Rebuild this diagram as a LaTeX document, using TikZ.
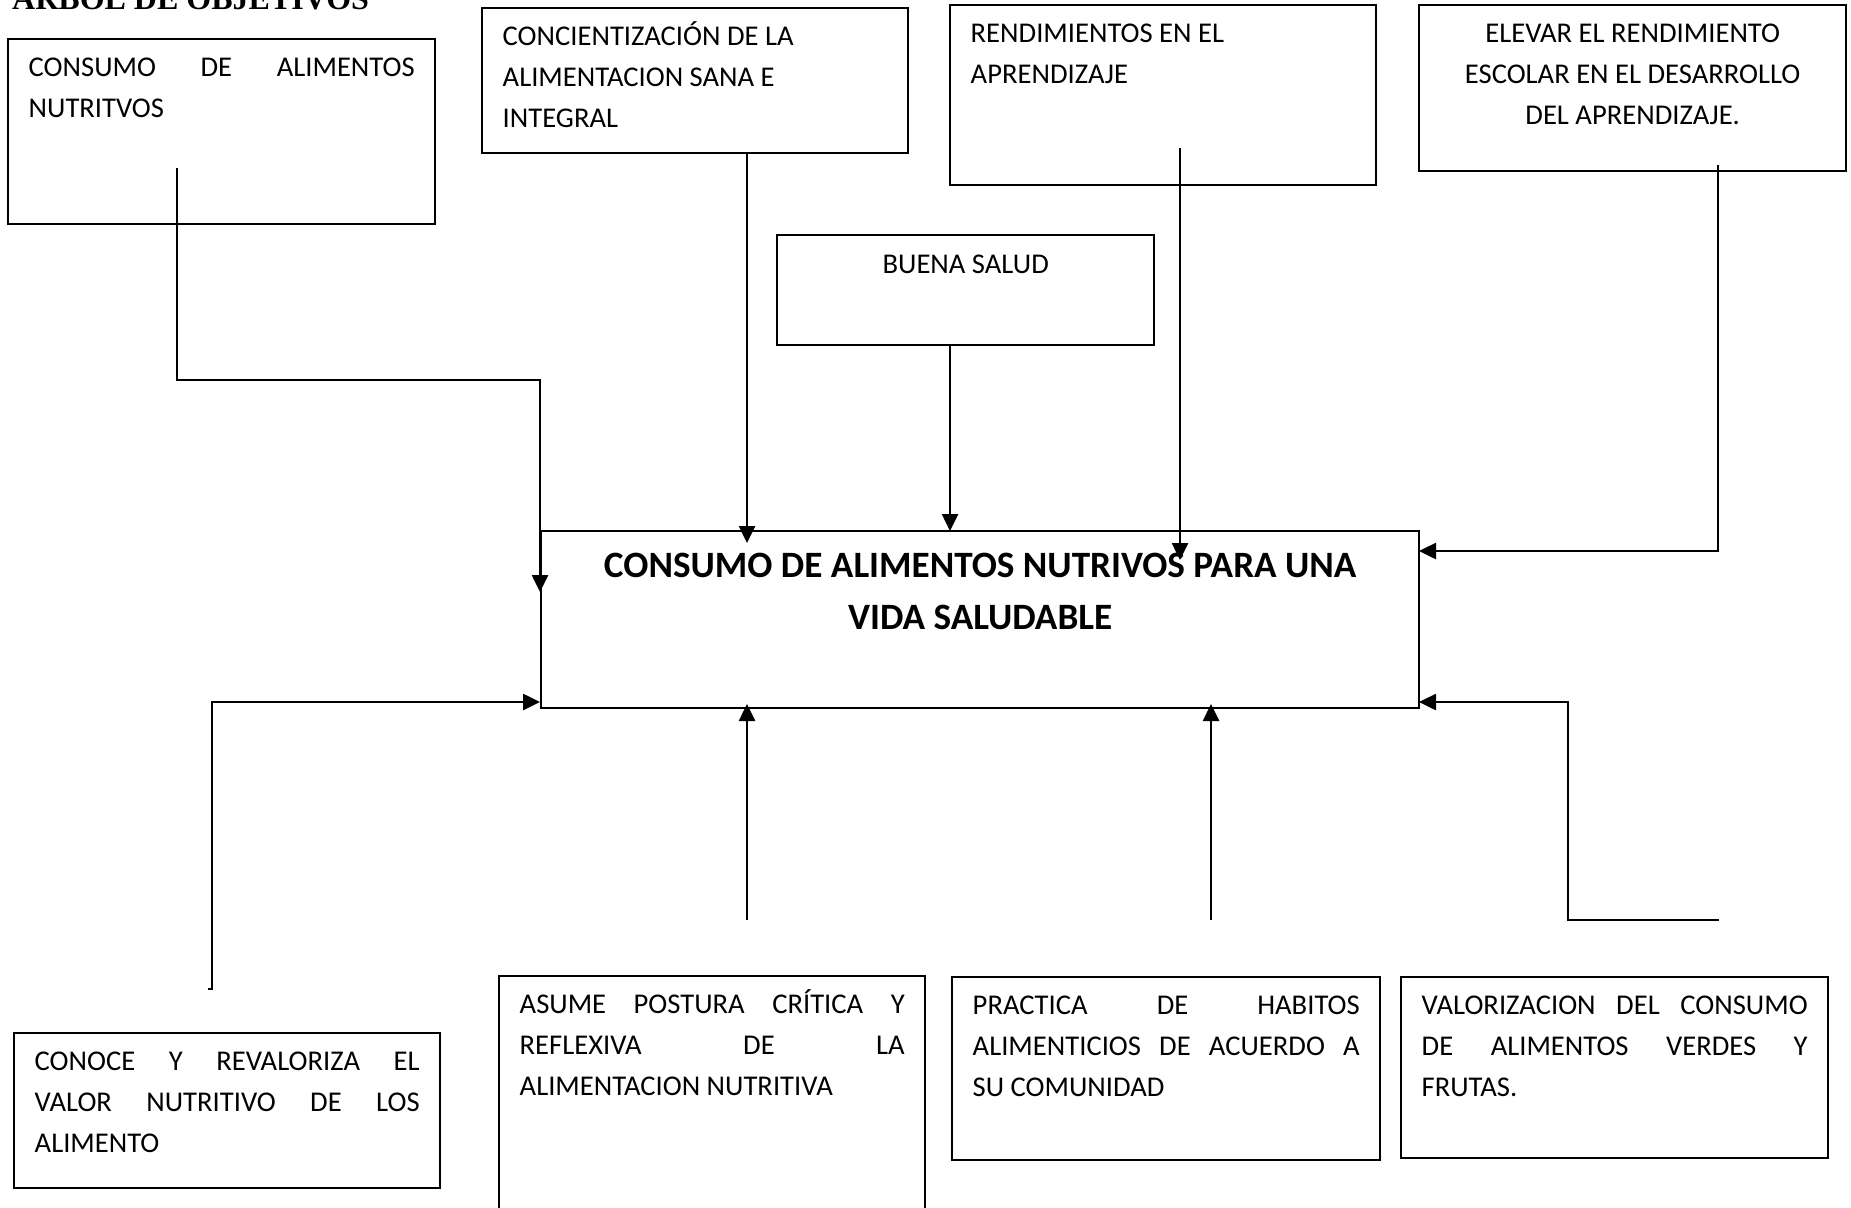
\documentclass[tikz,border=0pt]{standalone}
\usepackage{fontspec}
\setmainfont{Carlito}
\newfontfamily\titlefont{Liberation Serif}
\usetikzlibrary{arrows.meta,calc}
\hyphenpenalty=10000 \exhyphenpenalty=10000
\newcommand{\fl}{\rule{0pt}{37.5pt}}
\newcommand{\bx}[3]{\parbox[c][#2pt][t]{#1pt}{\fontsize{28.6pt}{41pt}\selectfont #3}}
\tikzset{
  box/.style={draw, line width=2.4pt, anchor=north west, inner xsep=20.5pt, inner ysep=0pt},
  conn/.style={line width=2.6pt},
  arr/.style={conn, -{Triangle[length=17pt,width=16pt]}},
}
\begin{document}
\begin{tikzpicture}[x=1pt,y=-1pt]
\useasboundingbox (0,0) rectangle (1851,1207);
\clip (0,0) rectangle (1851,1207);
\fill[white] (0,0) rectangle (1851,1207);

\node[anchor=base west, inner sep=0pt, font=\titlefont\bfseries\fontsize{32pt}{38pt}\selectfont] (T) at (12,10) {ÁRBOL DE OBJETIVOS};

\node[box] (A) at (7,38) {\bx{386}{185}{\fl CONSUMO DE ALIMENTOS\linebreak NUTRITVOS}};
\node[box] (B) at (481,7) {\bx{385}{145}{\raggedright\fl CONCIENTIZACIÓN DE LA\\ALIMENTACION SANA E\\INTEGRAL}};
\node[box] (C) at (949,4) {\bx{385}{180}{\raggedright\fl RENDIMIENTOS EN EL\\APRENDIZAJE}};
\node[box] (D) at (1418,4) {\bx{386}{166}{\centering\fl ELEVAR EL RENDIMIENTO\\ESCOLAR EN EL DESARROLLO\\DEL APRENDIZAJE.}};
\node[box] (E) at (776,234) {\bx{336}{110}{\centering\rule{0pt}{38pt}BUENA SALUD}};
\node[box] (M) at (540,530) {\parbox[c][177pt][t]{837pt}{\fontsize{37.2pt}{52pt}\selectfont\bfseries\centering\rule{0pt}{46pt}CONSUMO DE ALIMENTOS NUTRIVOS PARA UNA\\VIDA SALUDABLE}};
\node[box] (F) at (13,1032) {\bx{385}{155}{\fl CONOCE Y REVALORIZA EL\linebreak VALOR NUTRITIVO DE LOS\linebreak ALIMENTO}};
\node[box] (G) at (498,975) {\bx{385}{260}{\fl ASUME POSTURA CRÍTICA Y\linebreak REFLEXIVA DE LA\linebreak ALIMENTACION NUTRITIVA}};
\node[box] (H) at (951,976) {\bx{387}{183}{\fl PRACTICA DE HABITOS\linebreak ALIMENTICIOS DE ACUERDO A\linebreak SU COMUNIDAD}};
\node[box] (I) at (1400,976) {\bx{386}{181}{\fl VALORIZACION DEL CONSUMO\linebreak DE ALIMENTOS VERDES Y\linebreak FRUTAS.}};

% connector end points
\coordinate (a0) at (177,168);
\coordinate (a1) at (540,380);
\coordinate (aT) at (540,592);
\coordinate (bT) at (747,543);
\coordinate (eT) at (950,531);
\coordinate (c0) at (1180,148);
\coordinate (cT) at (1180,560);
\coordinate (d0) at (1718,165);
\coordinate (d1) at (1718,551);
\coordinate (dT) at (1419,551);
\coordinate (f0) at (208,989);
\coordinate (f1) at (212,989);
\coordinate (f2) at (212,702);
\coordinate (fT) at (540,702);
\coordinate (g0) at (747,920);
\coordinate (gT) at (747,704);
\coordinate (h0) at (1211,920);
\coordinate (hT) at (1211,704);
\coordinate (i0) at (1719,920);
\coordinate (i1) at (1568,920);
\coordinate (i2) at (1568,702);
\coordinate (iT) at (1419,702);

\draw[arr] (a0) |- (a1) -- (aT);
\draw[arr] (B.south -| bT) -- (bT);
\draw[arr] (E.south -| eT) -- (eT);
\draw[arr] (c0) -- (cT);
\draw[arr] (d0) -- (d1) -- (dT);
\draw[arr] (f0) -- (f1) -- (f2) -- (fT);
\draw[arr] (g0) -- (gT);
\draw[arr] (h0) -- (hT);
\draw[arr] (i0) -- (i1) -- (i2) -- (iT);
\end{tikzpicture}
\end{document}
